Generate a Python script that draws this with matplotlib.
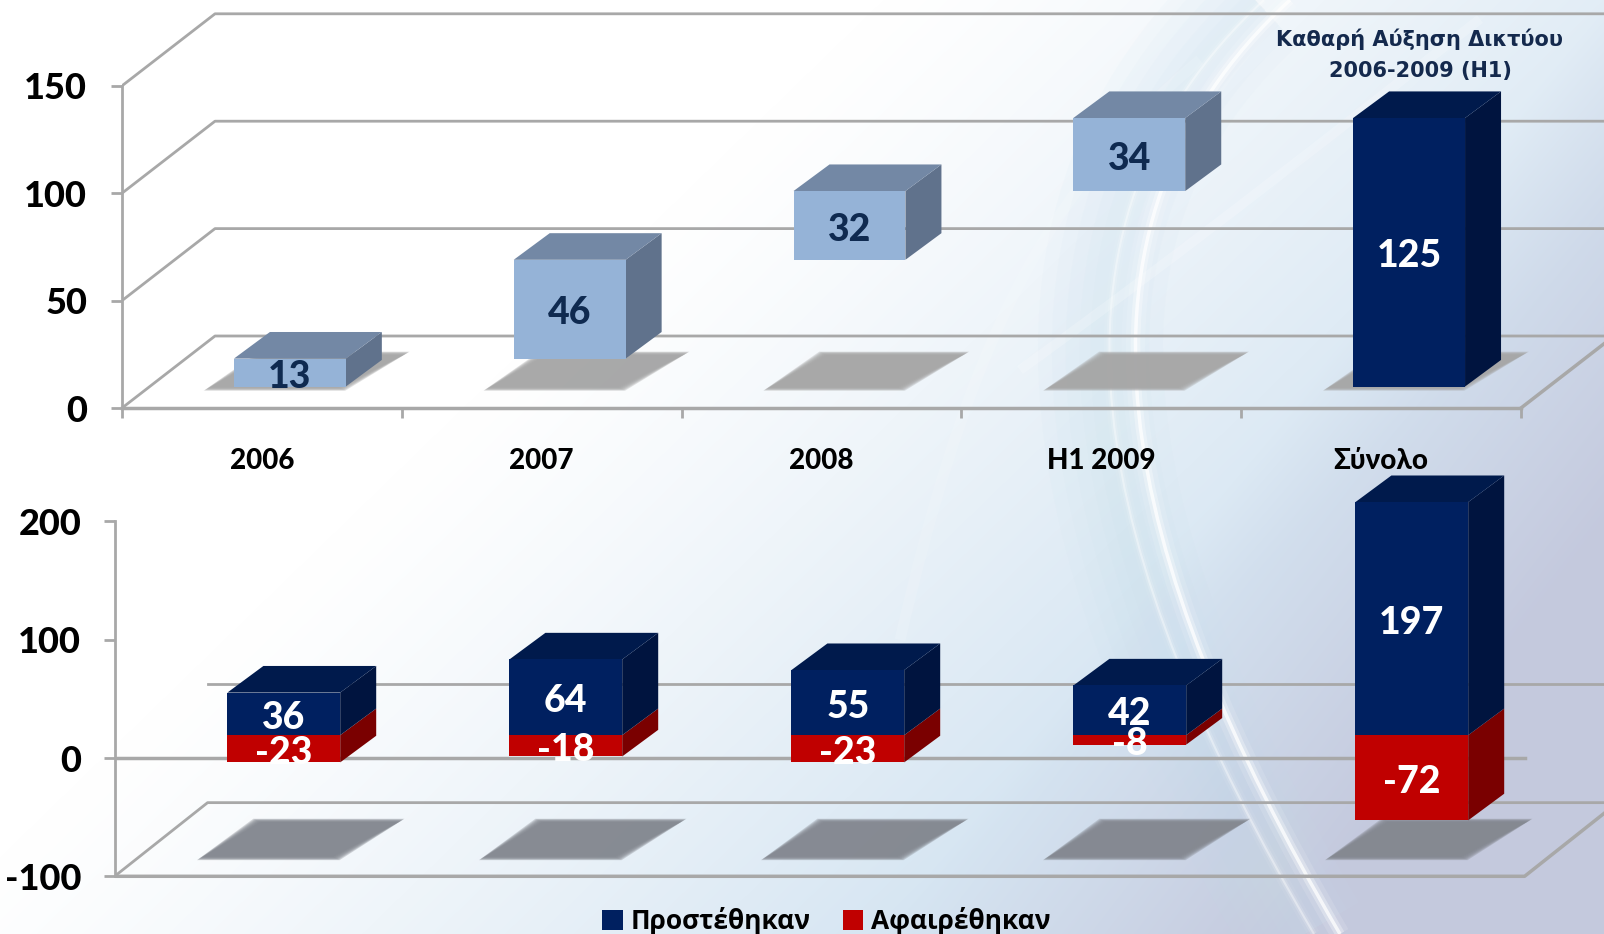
import matplotlib
matplotlib.use('Agg')
import matplotlib.pyplot as plt
import numpy as np
from matplotlib.patches import Polygon, Patch, PathPatch
from matplotlib.path import Path

plt.rcParams['axes.unicode_minus'] = False

W, H = 1604, 934

# --- DATA ---
categories = ['2006', '2007', '2008', 'H1 2009', 'Σύνολο']
net_values = [13, 46, 32, 34, 125]
net_bottoms = [0, 13, 59, 91, 0]
added = [36, 64, 55, 42, 197]
removed = [-23, -18, -23, -8, -72]
top_ticks = [0, 50, 100, 150]
bottom_ticks = [-100, 0, 100, 200]
title_lines = 'Καθαρή Αύξηση Δικτύου\n2006-2009 (H1)'
legend_labels = ['Προστέθηκαν', 'Αφαιρέθηκαν']

# --- COLOURS ---
GRID = '#a8a8a8'
LIGHT = ('#95b3d7', '#7388a5', '#60728c')
NAVY = ('#002060', '#001a4c', '#00143f')
RED = ('#c00000', '#c00000', '#7a0000')
LABEL_FONT = ['Lato', 'Open Sans', 'DejaVu Sans']
HEAVY = 900


def make_axes(left, right, top, bottom):
    return fig.add_axes([left / W, 1 - bottom / H, (right - left) / W, (bottom - top) / H])


def box(ax, x, y0, y1, width, dx, dy, colors, top_face=True):
    # front face is a normal bar, top and side are drawn behind it
    front, upper, side = colors
    low, high = min(y0, y1), max(y0, y1)
    ax.add_patch(Polygon([(x + width, low), (x + width + dx, low + dy), (x + width + dx, high + dy),
                          (x + width, high)], fc=side, ec='none', zorder=3))
    if top_face:
        ax.add_patch(Polygon([(x, high), (x + dx, high + dy), (x + width + dx, high + dy),
                              (x + width, high)], fc=upper, ec='none', zorder=3))
    ax.bar(x, high - low, width, bottom=low, align='edge', color=front, zorder=4)


def shadow(ax, x, y0, y1, color):
    # soft edged parallelogram on the floor, built from stacked see-through layers
    xs = np.array([0.30, 0.79, 1.02, 0.50])
    for grow in np.linspace(0.008, -0.016, 8):
        h = (y1 - y0) * grow * 4
        ax.add_patch(Polygon([(x + xs[0] - grow, y0 - h), (x + xs[1] + grow, y0 - h),
                              (x + xs[2] + grow, y1 + h), (x + xs[3] - grow, y1 + h)],
                             fc=color, ec='none', alpha=0.32, zorder=2))


def value_label(ax, x, y, txt, color, zorder=5):
    ax.annotate(txt, (x, y), xytext=(0, -3), textcoords='offset points', ha='center', va='center', fontsize=27,
                fontweight=HEAVY, family=LABEL_FONT, color=color, zorder=zorder)


def style_axis(ax, ticks, pad):
    ax.patch.set_alpha(0)
    for name in ['top', 'right', 'bottom']:
        ax.spines[name].set_visible(False)
    ax.spines['left'].set_color(GRID)
    ax.spines['left'].set_linewidth(2)
    ax.spines['left'].set_bounds(min(ticks), max(ticks))
    ax.set_yticks(ticks)
    ax.tick_params(axis='y', color=GRID, width=2, length=8, pad=pad)
    for lab in ax.get_yticklabels():
        lab.set_fontsize(26)
        lab.set_fontweight(HEAVY)
        lab.set_family(LABEL_FONT)


fig = plt.figure(figsize=(W / 100, H / 100), dpi=100)

# --- BACKGROUND ---
bg = fig.add_axes([0, 0, 1, 1])
yy, xx = np.mgrid[0:H, 0:W]
u, v = xx / W, yy / H
blue = np.clip((u + 0.6 * v - 0.55) / 0.6, 0, 1) ** 1.2
lav = np.clip((u + 0.45 * v - 1.0) / 0.25, 0, 1)
img = np.ones((H, W, 3))
for i, (c1, c2) in enumerate(zip((0.84, 0.90, 0.95), (0.77, 0.79, 0.87))):
    img[..., i] = 1 - (1 - c1) * blue
    img[..., i] = img[..., i] * (1 - lav) + c2 * lav
bg.imshow(img, extent=(0, W, H, 0), aspect='auto', zorder=0)

codes = [Path.MOVETO, Path.CURVE4, Path.CURVE4, Path.CURVE4]
main_curve = np.array([(1290, 0), (1040, 230), (1120, 560), (1340, 934)])
for lw in [90, 70, 50, 30, 14]:
    bg.add_patch(PathPatch(Path(main_curve + [-35, 0], codes), fc='none', ec='#c6e0ee', lw=lw, alpha=0.07,
                           capstyle='butt'))
for lw, alpha in [(14, 0.12), (7, 0.3), (2.5, 0.75)]:
    bg.add_patch(PathPatch(Path(main_curve, codes), fc='none', ec='white', lw=lw, alpha=alpha))
    bg.add_patch(PathPatch(Path(main_curve + [-26, 0], codes), fc='none', ec='white', lw=lw * 0.6, alpha=alpha * 0.5))
for verts, lw, alpha in [
    ([(1480, 19), (1350, 120), (1200, 240), (1020, 370)], 7, 0.2),
    ([(1200, 60), (1030, 200), (960, 380), (900, 640)], 8, 0.12),
]:
    bg.add_patch(PathPatch(Path(verts, codes), fc='none', ec='white', lw=lw, alpha=alpha))
bg.set_xlim(0, W)
bg.set_ylim(H, 0)
bg.axis('off')

# --- TOP CHART ---
ax1 = make_axes(122, W, 0, 460)
ax1.set_xlim(0, (W - 122) / 279.8)
ax1.set_ylim(-(460 - 408) / 2.148, 408 / 2.148)
style_axis(ax1, top_ticks, 17)

back_dx, back_dy = 93 / 279.8, 72 / 2.148
for t in top_ticks:
    ax1.plot([0, back_dx, 6], [t, t + back_dy, t + back_dy], color=GRID, lw=2, zorder=1)
ax1.plot([5, 5 + back_dx], [0, back_dy], color=GRID, lw=2.5, zorder=1)

ax1.spines['bottom'].set_visible(True)
ax1.spines['bottom'].set_position(('data', 0))
ax1.spines['bottom'].set_color(GRID)
ax1.spines['bottom'].set_linewidth(2.5)
ax1.spines['bottom'].set_bounds(0, 5)
ax1.set_xticks(np.arange(6))
ax1.tick_params(axis='x', which='major', color=GRID, width=2, length=7, labelbottom=False)
ax1.set_xticks(np.arange(5) + 0.5, categories, minor=True)
ax1.tick_params(axis='x', which='minor', length=0, pad=29)
for lab in ax1.get_xticklabels(minor=True):
    lab.set_fontsize(20)
    lab.set_fontweight(HEAVY)
    lab.set_family(LABEL_FONT)

for i, (val, base) in enumerate(zip(net_values, net_bottoms)):
    shadow(ax1, i, 8.6, 25.7, '#a6a6a6')
    colors = NAVY if i == 4 else LIGHT
    x = i + 0.40
    y0 = base + 10
    box(ax1, x, y0, y0 + val, 0.4, 36 / 279.8, 26.6 / 2.148, colors)
    value_label(ax1, x + 0.2, y0 + val / 2, str(val), 'white' if i == 4 else '#0f2a50')

ax1.text((1420 - 122) / 279.8, (408 - 55) / 2.148, title_lines, ha='center', va='center', fontsize=15,
         fontweight='bold', color='#14294d', linespacing=1.7, zorder=6)

# --- BOTTOM CHART ---
ax2 = make_axes(114.6, W, 470, H)
ax2.set_xlim(0, (W - 114.6) / 282)
ax2.set_ylim(-(H - 758) / 1.183, (758 - 470) / 1.183)
style_axis(ax2, bottom_ticks, 16)
ax2.set_xticks([])

back_dx2, back_dy2 = 93 / 282, 72 * 1.023 / 1.183
ax2.plot([0, back_dx2, 6], [-100, -100 + back_dy2, -100 + back_dy2], color=GRID, lw=2, zorder=1)
ax2.plot([back_dx2, 6], [back_dy2, back_dy2], color=GRID, lw=2, zorder=1)
ax2.plot([0, 5], [0, 0], color=GRID, lw=2.5, zorder=1)
ax2.plot([0, 5, 5 + back_dx2], [-100, -100, -100 + back_dy2], color=GRID, lw=2.5, zorder=1)

for i, (up, down) in enumerate(zip(added, removed)):
    shadow(ax2, i, -85.3, -52.4, '#83878f')
    x = i + 0.40
    base = 19.3
    box(ax2, x, base, base + down, 0.4, 36 / 282, 22.5, RED, top_face=False)
    box(ax2, x, base, base + up, 0.4, 36 / 282, 22.5, NAVY)
    value_label(ax2, x + 0.2, base + up / 2, str(up), 'white')
    value_label(ax2, x + 0.2, base + down / 2, str(down), 'white', zorder=6)

ax2.legend(handles=[Patch(fc=NAVY[0], ec='none', label=legend_labels[0]),
                    Patch(fc=RED[0], ec='none', label=legend_labels[1])],
           loc='center', bbox_to_anchor=(0.478, 0.028), ncol=2, frameon=False, handlelength=0.78, handleheight=0.78,
           handletextpad=0.3, columnspacing=1.2,
           prop={'family': ['Open Sans', 'DejaVu Sans'], 'weight': 'bold', 'size': 19})

fig.savefig('out.png', dpi=100)
